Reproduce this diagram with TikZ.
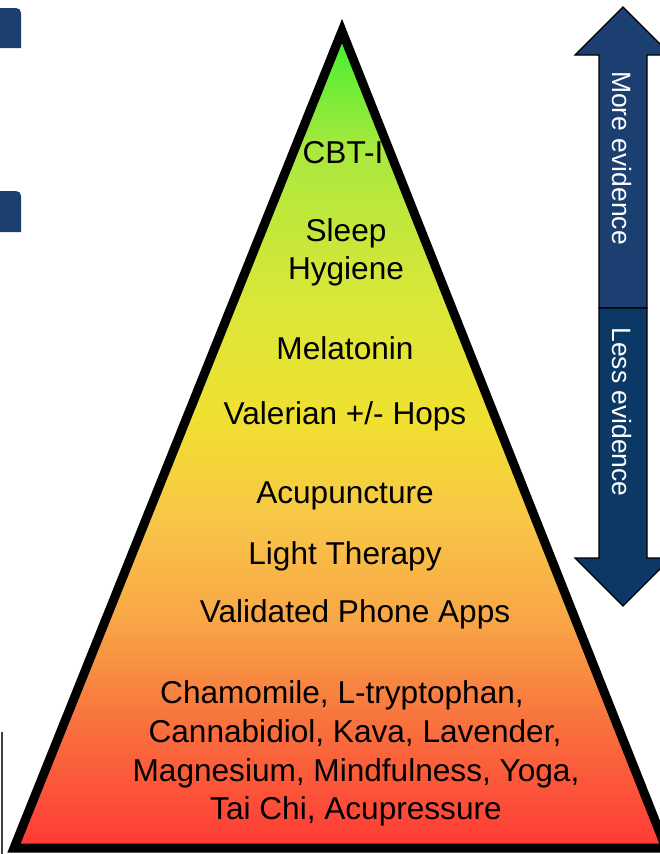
\documentclass[tikz,border=0pt]{standalone}
\usepackage{fontspec}
\setmainfont{Liberation Sans}
\definecolor{navyA}{HTML}{1B3F70}
\definecolor{navyB}{HTML}{0B3865}
\definecolor{navyL}{HTML}{1B3F6F}
\tikzset{
  lbl/.style={anchor=base, font=\fontsize{31.6}{37}\selectfont, inner sep=0pt},
  arrlbl/.style={rotate=-90, text=white, font=\fontsize{26.5}{32}\selectfont, inner sep=0pt},
  arrowbody/.style={draw=black, line width=1.2pt, line join=miter},
  pyredge/.style={draw=black, line width=9pt, line join=miter, miter limit=10},
}
\begin{document}
\begin{tikzpicture}[x=1pt, y=-1pt]
\useasboundingbox (0,0) rectangle (659,854);
\fill[white] (0,0) rectangle (659,854);

% partial shapes at the left edge
\fill[navyL] (0,8) -- (16,8) .. controls (19,8) and (21,10) .. (21,13) -- (21,48) -- (0,48) -- cycle;
\fill[navyL] (0,191) -- (16,191) .. controls (19,191) and (21,193) .. (21,196) -- (21,232) -- (0,232) -- cycle;
\draw[line width=1.5pt, black!75] (2,732) -- (2,854);

% pyramid fill
\coordinate (apex) at (342,31);
\coordinate (bl) at (14,848);
\coordinate (br) at (666,848);
\begin{scope}
\clip (apex) -- (bl) -- (br) -- cycle;
\shade[top color={rgb,255:red,50;green,240;blue,45}, bottom color={rgb,255:red,170;green,232;blue,62}] (0,15) rectangle (680,150.5);
\shade[top color={rgb,255:red,170;green,232;blue,62}, bottom color={rgb,255:red,218;green,231;blue,56}] (0,150) rectangle (680,300.5);
\shade[top color={rgb,255:red,218;green,231;blue,56}, bottom color={rgb,255:red,240;green,224;blue,48}] (0,300) rectangle (680,420.5);
\shade[top color={rgb,255:red,240;green,224;blue,48}, bottom color={rgb,255:red,248;green,198;blue,72}] (0,420) rectangle (680,520.5);
\shade[top color={rgb,255:red,248;green,198;blue,72}, bottom color={rgb,255:red,248;green,166;blue,70}] (0,520) rectangle (680,620.5);
\shade[top color={rgb,255:red,248;green,166;blue,70}, bottom color={rgb,255:red,248;green,115;blue,62}] (0,620) rectangle (680,720.5);
\shade[top color={rgb,255:red,248;green,115;blue,62}, bottom color={rgb,255:red,255;green,52;blue,52}] (0,720) rectangle (680,860);
\end{scope}
\draw[pyredge] (apex) -- (bl) -- (br) -- cycle;

% pyramid labels
\node[lbl] (cbt) at (343,163) {CBT-I};
\node[lbl] (sleep) at (346,241) {Sleep};
\node[lbl] (hyg) at (346,279) {Hygiene};
\node[lbl] (mel) at (345,359) {Melatonin};
\node[lbl] (val) at (345,424) {Valerian +/- Hops};
\node[lbl] (acu) at (345,503) {Acupuncture};
\node[lbl] (light) at (345,564) {Light Therapy};
\node[lbl] (apps) at (355,622) {Validated Phone Apps};
\node[lbl] (l1) at (342,703) {Chamomile, L-tryptophan,};
\node[lbl] (l2) at (355,742) {Cannabidiol, Kava, Lavender,};
\node[lbl] (l3) at (356,781) {Magnesium, Mindfulness, Yoga,};
\node[lbl] (l4) at (356,819) {Tai Chi, Acupressure};

% evidence arrow
\fill[navyA, arrowbody] (599,308) -- (599,55) -- (575,55) -- (623,7) -- (671,55) -- (647,55) -- (647,308) -- cycle;
\fill[navyB, arrowbody] (599,308) -- (599,558) -- (575,558) -- (623,606) -- (671,558) -- (647,558) -- (647,308) -- cycle;
\node[arrlbl] (more) at (622,158) {More evidence};
\node[arrlbl] (less) at (622,412) {Less evidence};
\end{tikzpicture}
\end{document}
